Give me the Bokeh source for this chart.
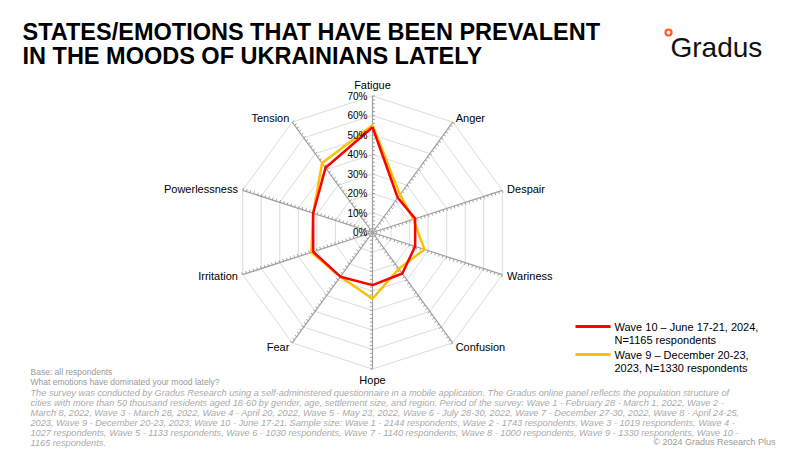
import numpy as np
from bokeh.plotting import figure
from bokeh.models import Range1d
from bokeh.core.properties import value
from bokeh.embed import file_html
from bokeh.resources import INLINE

categories = ["Fatigue", "Anger", "Despair", "Wariness", "Confusion",
              "Hope", "Fear", "Irritation", "Powerlessness", "Tension"]
wave10 = [54, 22, 23, 23, 26, 27, 28, 32, 32, 41]
wave9 = [55, 24, 22, 28, 23, 34, 28, 33, 32, 44]
ticks = [0, 10, 20, 30, 40, 50, 60, 70]

W, H = 800, 450
p = figure(width=W, height=H, output_backend="svg", toolbar_location=None,
           x_range=Range1d(0, W), y_range=Range1d(H, 0), min_border=0)
p.axis.visible = False
p.grid.visible = False
p.outline_line_color = None

FONT = value("Liberation Sans")
cx, cy = 372, 232
scale = 1.95  # px per percent
n = len(categories)
ang = np.pi / 2 - np.arange(n) * 2 * np.pi / n
dx, dy = np.cos(ang), -np.sin(ang)   # y grows downward


def pts(vals):
    r = np.array(vals, dtype=float) * scale
    xs = cx + r * dx
    ys = cy + r * dy
    return list(xs) + [xs[0]], list(ys) + [ys[0]]


# grid rings
for t in range(10, 80, 10):
    gx, gy = pts([t] * n)
    p.line(gx, gy, line_color="#dcdcdc", line_width=1)

# spokes with minor ticks
R = 70 * scale
p.segment([cx] * n, [cy] * n, list(cx + R * dx), list(cy + R * dy),
          line_color="#a0a0a0", line_width=1.2)
sx0, sy0, sx1, sy1 = [], [], [], []
for i in range(n):
    px_, py_ = -dy[i], dx[i]
    for t in range(2, 71, 2):
        bx, by = cx + t * scale * dx[i], cy + t * scale * dy[i]
        sx0.append(bx); sy0.append(by)
        sx1.append(bx + 2.5 * px_); sy1.append(by + 2.5 * py_)
p.segment(sx0, sy0, sx1, sy1, line_color="#a0a0a0", line_width=1)

# series
x9, y9 = pts(wave9)
p.line(x9, y9, line_color="#ffc000", line_width=2.5)
x10, y10 = pts(wave10)
p.line(x10, y10, line_color="#ff0000", line_width=2.5)

# radial tick labels
p.text([cx - 5] * len(ticks), [cy - t * scale for t in ticks],
       text=[f"{t}%" for t in ticks], text_align="right", text_baseline="middle",
       text_font=FONT, text_font_size="10px", text_color="#000000")

# category labels
for c, ca, sa in zip(categories, dx, dy):
    rr = R + 5
    x, y = cx + rr * ca, cy + rr * sa
    align = "center" if abs(ca) < 0.1 else ("left" if ca > 0 else "right")
    base = "bottom" if sa < -0.9 else ("top" if sa > 0.9 else "middle")
    p.text([x], [y], text=[c], text_align=align, text_baseline=base,
           text_font=FONT, text_font_size="11px", text_color="#000000")

# title
p.text([22, 22], [18, 42],
       text=["STATES/EMOTIONS THAT HAVE BEEN PREVALENT", "IN THE MOODS OF UKRAINIANS LATELY"],
       text_baseline="top", text_font=FONT, text_font_size="23.5px", text_font_style="bold",
       text_color="#000000")

# logo
p.text([670], [47], text=["Gradus"], text_baseline="middle", text_font=FONT,
       text_font_size="28px", text_color="#111111")
p.scatter([668], [32], size=6, marker="circle", fill_color="white",
          line_color="#ff5a1f", line_width=2.2)

# legend
p.line([575, 610], [326, 326], line_color="#ff0000", line_width=3)
p.line([575, 610], [354, 354], line_color="#ffc000", line_width=3)
p.text([614, 614, 614, 614], [326, 339, 354, 367],
       text=["Wave 10 – June 17-21, 2024,", "N=1165 respondents",
             "Wave 9 – December 20-23,", "2023, N=1330 respondents"],
       text_baseline="middle", text_font=FONT, text_font_size="11px", text_color="#000000")

# footnotes
notes = ["Base: all respondents", "What emotions have dominated your mood lately?"]
p.text([30, 30], [371, 381], text=notes, text_baseline="middle", text_font=FONT,
       text_font_size="8.5px", text_color="#999999")
italic = [
    "The survey was conducted by Gradus Research using a self-administered questionnaire in a mobile application. The Gradus online panel reflects the population structure of",
    "cities with more than 50 thousand residents aged 18-60 by gender, age, settlement size, and region. Period of the survey: Wave 1 - February 28 - March 1, 2022, Wave 2 -",
    "March 8, 2022, Wave 3 - March 28, 2022, Wave 4 - April 20, 2022, Wave 5 - May 23, 2022, Wave 6 - July 28-30, 2022, Wave 7 - December 27-30, 2022, Wave 8 - April 24-25,",
    "2023, Wave 9 - December 20-23, 2023, Wave 10 - June 17-21. Sample size: Wave 1 - 2144 respondents, Wave 2 - 1743 respondents, Wave 3 - 1019 respondents, Wave 4 -",
    "1027 respondents, Wave 5 - 1133 respondents, Wave 6 - 1030 respondents, Wave 7 - 1140 respondents, Wave 8 - 1000 respondents, Wave 9 - 1330 respondents, Wave 10 -",
    "1165 respondents.",
]
p.text([30] * len(italic), [392 + 10 * i for i in range(len(italic))], text=italic,
       text_baseline="middle", text_font=FONT, text_font_size="9.2px",
       text_font_style="italic", text_color="#aaaaaa")
p.text([775], [441], text=["© 2024 Gradus Research Plus"], text_align="right",
       text_baseline="middle", text_font=FONT, text_font_size="9px", text_color="#999999")

open("out.html", "w").write(file_html(p, INLINE))
